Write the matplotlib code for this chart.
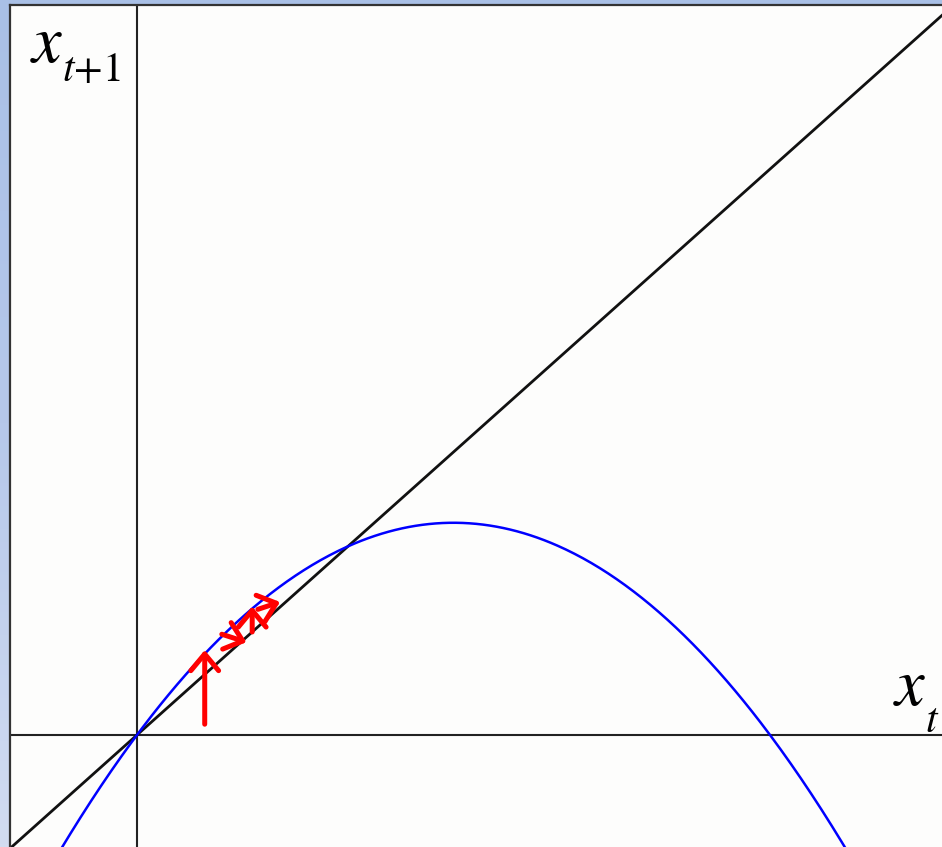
import numpy as np
import matplotlib.pyplot as plt
from matplotlib.colors import LinearSegmentedColormap

plt.rcParams['mathtext.fontset'] = 'stix'

# logistic map x_{t+1} = r x_t (1 - x_t)
r = 1.5
x_range = (-0.2006, 1.2717)
y_range = (-0.198, 1.29)

# cobweb steps (start x, start y, end x, end y)
step_x0 = [0.107, 0.134, 0.182, 0.191]
step_y0 = [0.019, 0.178, 0.182, 0.222]
step_x1 = [0.107, 0.173, 0.182, 0.226]
step_y1 = [0.150, 0.164, 0.227, 0.235]

fig = plt.figure(figsize=(9.42, 8.47), dpi=100)

# light blue slide background, fading toward the bottom
bg = fig.add_axes([0, 0, 1, 1], zorder=-5)
cmap = LinearSegmentedColormap.from_list('slide', ['#a9c0e6', '#b6c8ea', '#d2dcf1'])
bg.imshow(np.linspace(0, 1, 256).reshape(-1, 1), aspect='auto', cmap=cmap,
          extent=[0, 1, 0, 1])
bg.axis('off')

ax = fig.add_axes([10 / 942, 0, 932 / 942, 842 / 847])
ax.set_facecolor('#fdfdfc')
ax.set_xlim(*x_range)
ax.set_ylim(*y_range)
ax.set_xticks([])
ax.set_yticks([])
for side in ['right', 'bottom']:
    ax.spines[side].set_visible(False)
for side in ['left', 'top']:
    ax.spines[side].set_color('#333333')
    ax.spines[side].set_linewidth(1.6)

# coordinate axes
ax.axhline(0, color='#222222', lw=1.5)
ax.axvline(0, color='#222222', lw=1.5)

# 45 degree line
ax.plot([-1, 2], [-1, 2], color='#111111', lw=2.0)

# map curve
xs = np.linspace(-0.3, 1.3, 600)
ax.plot(xs, r * xs * (1 - xs), color='#0000ff', lw=1.8)

# cobweb arrows
for a, b, c, d in zip(step_x0, step_y0, step_x1, step_y1):
    ax.annotate('', xy=(c, d), xytext=(a, b),
                arrowprops=dict(arrowstyle='->,head_length=0.6,head_width=0.5',
                                color='#ff0000', lw=3.6, mutation_scale=20,
                                shrinkA=0, shrinkB=0))

# axis names, subscripts set separately
ax.text(20 / 932, 1 - 57 / 842, r'$x$', transform=ax.transAxes,
        fontsize=48, va='baseline', ha='left')
ax.text(52 / 932, 1 - 76 / 842, r'$t{+}1$', transform=ax.transAxes,
        fontsize=30, va='baseline', ha='left')
ax.text(883 / 932, 1 - 700 / 842, r'$x$', transform=ax.transAxes,
        fontsize=48, va='baseline', ha='left')
ax.text(915 / 932, 1 - 727 / 842, r'$t$', transform=ax.transAxes,
        fontsize=30, va='baseline', ha='left')

fig.savefig('out.png', dpi=100)
